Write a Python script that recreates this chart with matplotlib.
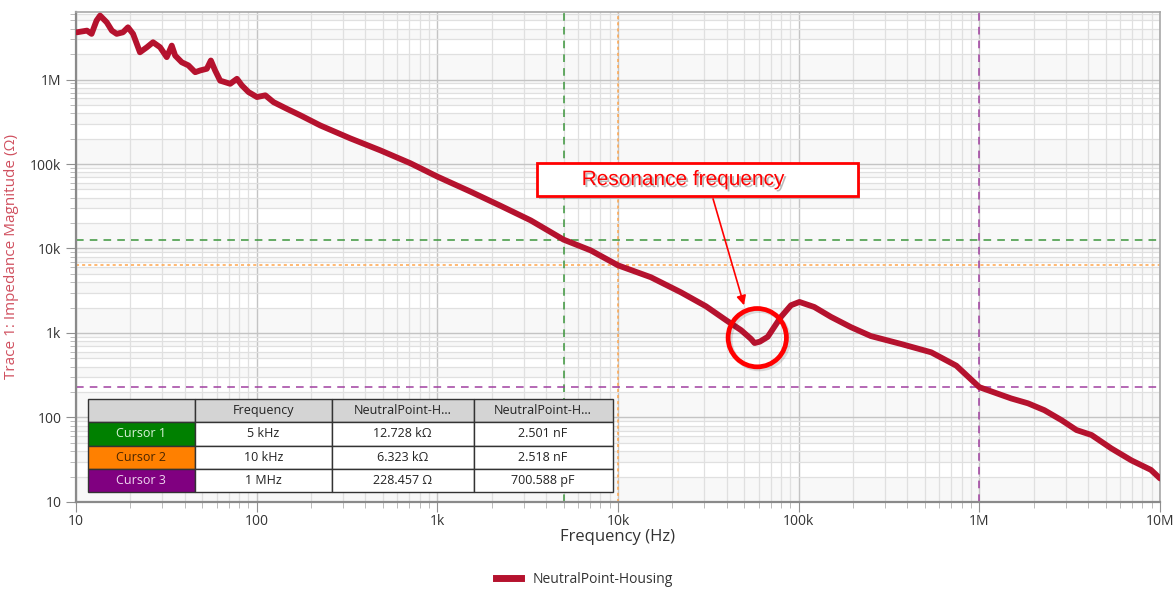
import matplotlib
matplotlib.use('Agg')
from matplotlib import pyplot as plt
from matplotlib.lines import Line2D
from matplotlib.patches import Rectangle
import matplotlib.patheffects as pe
import numpy as np

# Impedance sweep NeutralPoint-Housing (Hz, Ohm)
freqs = [10.1, 11.5, 12.2, 13.0, 13.6, 14.8, 15.8, 16.8, 18.2, 19.4, 20.7, 22.6, 24.7,
         26.7, 29.2, 31.8, 33.9, 35.4, 38.5, 41.9, 45.7, 48.7, 53.0, 55.8, 58.9, 62.8,
         71.4, 77.8, 82.9, 90.2, 100.4, 111.7, 124, 147, 175, 225, 330, 484, 710,
         1e3, 1.53e3, 2.24e3, 3.29e3, 5e3, 7.06e3, 10e3, 15.2e3, 22.3e3, 30.7e3,
         39.6e3, 48e3, 54.5e3, 57e3, 61e3, 67.4e3, 79.8e3, 90.7e3, 101e3, 122e3,
         151e3, 195e3, 251e3, 370e3, 542e3, 746e3, 1e6, 1.5e6, 1.86e6, 2.29e6,
         2.85e6, 3.45e6, 4.18e6, 5.38e6, 6.96e6, 8.9e6, 10e6]
impedance = [3.62e6, 3.79e6, 3.47e6, 4.98e6, 5.71e6, 4.75e6, 3.79e6, 3.47e6, 3.62e6,
             4.15e6, 3.47e6, 2.10e6, 2.41e6, 2.76e6, 2.41e6, 1.84e6, 2.52e6, 1.92e6,
             1.60e6, 1.47e6, 1.22e6, 1.28e6, 1.34e6, 1.68e6, 1.28e6, 0.97e6, 0.89e6,
             1.02e6, 0.85e6, 0.71e6, 0.62e6, 0.65e6, 0.54e6, 0.45e6, 0.376e6, 0.286e6,
             0.201e6, 0.145e6, 0.102e6, 71e3, 47e3, 32e3, 21.5e3, 12.728e3, 9.5e3,
             6.323e3, 4.57e3, 3.03e3, 2.07e3, 1.42e3, 1.08e3, 850, 760, 790, 900,
             1.55e3, 2.13e3, 2.33e3, 2.03e3, 1.55e3, 1.17e3, 920, 740, 590, 410,
             228.457, 168, 147, 122, 93, 71, 62, 43, 31, 24, 19]

# cursors: frequency, impedance, capacitance
cursor_names = ['Cursor 1', 'Cursor 2', 'Cursor 3']
cursor_freq = [5e3, 10e3, 1e6]
cursor_z = [12.728e3, 6.323e3, 228.457]
cursor_freq_txt = ['5 kHz', '10 kHz', '1 MHz']
cursor_z_txt = ['12.728 k\u03a9', '6.323 k\u03a9', '228.457 \u03a9']
cursor_c_txt = ['2.501 nF', '2.518 nF', '700.588 pF']
cursor_colors = ['#008000', '#ff8000', '#800080']
cursor_line_colors = ['#3c963c', '#ffa64d', '#a040a0']
cursor_text_colors = ['#d9f2d9', '#4a2600', '#f0d8f0']

x_ticks = [10, 100, 1e3, 1e4, 1e5, 1e6, 1e7]
x_labels = ['10', '100', '1k', '10k', '100k', '1M', '10M']
y_ticks = [10, 100, 1e3, 1e4, 1e5, 1e6]
y_labels = ['10', '100', '1k', '10k', '100k', '1M']

resonance = (59e3, 880)

plt.rcParams['font.family'] = ['Open Sans', 'DejaVu Sans']
fig = plt.figure(figsize=(11.76, 5.9), dpi=100)
ax = fig.add_axes([0.0646, 0.1492, 0.9218, 0.8305])
ax.set_xscale('log')
ax.set_yscale('log')
ax.set_xlim(10, 1e7)
ax.set_ylim(10, 6.3e6)

# light alternating bands between minor grid lines
for dec in range(1, 7):
    for k in (1, 3, 5, 7, 9):
        ax.axhspan(k * 10**dec, (k + 1) * 10**dec, color='#f8f8f8', zorder=0, lw=0)

ax.grid(which='major', color='#c4c4c4', lw=1.0, zorder=1)
ax.grid(which='minor', color='#e0e0e0', lw=0.9, zorder=1)
ax.set_axisbelow(True)

# cursor lines
styles = [(0, (5, 4)), (0, (2, 2)), (0, (5, 4))]
for f, z, c, ls in zip(cursor_freq, cursor_z, cursor_line_colors, styles):
    ax.axvline(f, color=c, lw=1.1, ls=ls, zorder=2)
    ax.axhline(z, color=c, lw=1.1, ls=ls, zorder=2)

ax.plot(freqs, impedance, color='#b5122e', lw=4.2, solid_joinstyle='round',
        solid_capstyle='round', zorder=3)

ax.set_xticks(x_ticks)
ax.set_xticklabels(x_labels)
ax.set_yticks(y_ticks)
ax.set_yticklabels(y_labels)
ax.tick_params(axis='both', which='major', labelsize=10, colors='#333333', length=7,
               color='#909090')
ax.tick_params(axis='x', which='major', pad=2)
ax.tick_params(axis='both', which='minor', length=4, color='#b0b0b0')
for s in ['left', 'bottom']:
    ax.spines[s].set_color('#8a8a8a')
    ax.spines[s].set_linewidth(1.6)
for s in ['top', 'right']:
    ax.spines[s].set_color('#a8a8a8')
    ax.spines[s].set_linewidth(1.2)

ax.set_xlabel('Frequency (Hz)', fontsize=12, color='#333333', labelpad=0)
ax.set_ylabel('Trace 1: Impedance Magnitude (\u03a9)', fontsize=11, color='#d0505f',
              labelpad=8)

# cursor table
cell_text = [['', 'Frequency', 'NeutralPoint-H...', 'NeutralPoint-H...']]
for i in range(3):
    cell_text.append([cursor_names[i], cursor_freq_txt[i], cursor_z_txt[i], cursor_c_txt[i]])
tbl = ax.table(cellText=cell_text, cellLoc='center',
               colWidths=[107, 137, 142, 139],
               bbox=[0.011, 0.020, 0.484, 0.190], zorder=5)
tbl.auto_set_font_size(False)
for (r, c), cell in tbl.get_celld().items():
    cell.set_edgecolor('#333333')
    cell.set_linewidth(1.0)
    cell.get_text().set_fontsize(9)
    cell.get_text().set_color('#222222')
    if r == 0:
        cell.set_facecolor('#d4d4d4')
    elif c == 0:
        cell.set_facecolor(cursor_colors[r - 1])
        cell.get_text().set_color(cursor_text_colors[r - 1])
    else:
        cell.set_facecolor('white')

# resonance callout
shadow = [pe.SimplePatchShadow(offset=(2, -2), shadow_rgbFace='#888888', alpha=0.5), pe.Normal()]
box = Rectangle((0.425, 0.624), 0.296, 0.068, transform=ax.transAxes, fill=True,
                facecolor='white', edgecolor='#ff0000', lw=2, zorder=6, path_effects=shadow)
ax.add_patch(box)
ax.text(0.4665, 0.658, 'Resonance frequency', transform=ax.transAxes, fontsize=15,
        color='#ff0000', family='Liberation Sans', va='center', ha='left', zorder=7,
        path_effects=[pe.withSimplePatchShadow(offset=(1.5, -1.5), shadow_rgbFace='#777777',
                                               alpha=0.5)])
ax.annotate('', xy=(0.617, 0.396), xytext=(0.587, 0.624), xycoords='axes fraction',
            arrowprops=dict(arrowstyle='-|>', color='#ff0000', lw=1.2, mutation_scale=14),
            zorder=7)
ax.plot(*resonance, marker='o', ms=42, mfc='none', mec='#ff0000', mew=3.4, zorder=7,
        path_effects=[pe.SimpleLineShadow(offset=(1.5, -1.5), alpha=0.12), pe.Normal()])

handle = Line2D([], [], color='#b5122e', lw=5)
fig.legend(handles=[handle], labels=['NeutralPoint-Housing'], loc='lower center',
           bbox_to_anchor=(0.497, -0.016), frameon=False, fontsize=10, handlelength=1.8,
           labelcolor='#333333')

fig.savefig('out.png', dpi=100)
